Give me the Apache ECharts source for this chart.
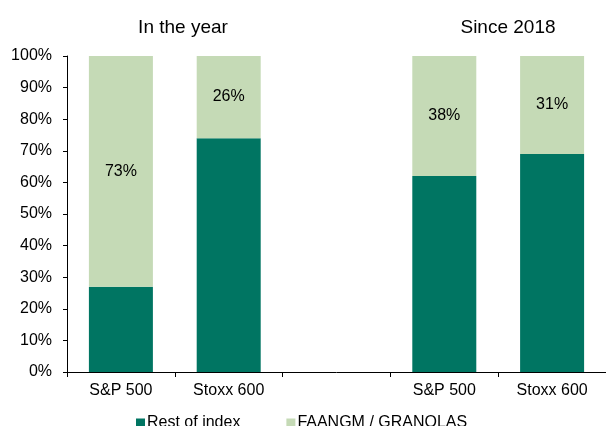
<!DOCTYPE html>
<html>
<head>
<meta charset="utf-8">
<script src="https://cdn.jsdelivr.net/npm/echarts@6/dist/echarts.min.js"></script>
<style>
  html, body { margin: 0; padding: 0; background: #fff; }
  #chart { width: 606px; height: 426px; }
</style>
</head>
<body>
<div id="chart"></div>
<script>
// Index categories; the blank slot separates the two periods
const categories = ['S&P 500', 'Stoxx 600', '', 'S&P 500', 'Stoxx 600'];
// Share of index performance (%)
const restOfIndex = [27, 74, null, 62, 69];
const faangmGranolas = [73, 26, null, 38, 31];
const yTicks = [0, 10, 20, 30, 40, 50, 60, 70, 80, 90, 100];
const periodTitles = ['In the year', 'Since 2018'];

const FONT = '"Liberation Sans", Arial, sans-serif';

const chart = echarts.init(document.getElementById('chart'), null, { renderer: 'canvas' });

const titleStyle = { fontFamily: FONT, fontSize: 19, fontWeight: 'normal', color: '#000' };

chart.setOption({
  animation: false,
  backgroundColor: '#ffffff',
  textStyle: { fontFamily: FONT },
  title: [
    { text: periodTitles[0], left: 178, top: 13, textAlign: 'center', textStyle: titleStyle },
    { text: periodTitles[1], left: 503, top: 13, textAlign: 'center', textStyle: titleStyle }
  ],
  legend: {
    left: 131,
    top: 410,
    itemWidth: 9,
    itemHeight: 9,
    itemGap: 46,
    icon: 'rect',
    textStyle: { fontFamily: FONT, fontSize: 16, color: '#000', padding: [0, 0, 0, -3] },
    data: ['Rest of index', 'FAANGM / GRANOLAS']
  },
  grid: { left: 67, right: -4, top: 56, bottom: 54, containLabel: false },
  xAxis: {
    type: 'category',
    data: categories,
    axisLine: { lineStyle: { color: '#000', width: 1 } },
    axisTick: { show: true, length: 5, lineStyle: { color: '#000' } },
    axisLabel: { fontFamily: FONT, fontSize: 16, color: '#000', margin: 11 }
  },
  yAxis: {
    type: 'value',
    min: yTicks[0],
    max: yTicks[yTicks.length - 1],
    interval: yTicks[1] - yTicks[0],
    splitLine: { show: false },
    axisLine: { show: true, lineStyle: { color: '#000', width: 1 } },
    axisTick: { show: true, length: 4, lineStyle: { color: '#000' } },
    axisLabel: { fontFamily: FONT, fontSize: 16, color: '#000', margin: 15, formatter: '{value}%' }
  },
  series: [
    {
      name: 'Rest of index',
      type: 'bar',
      stack: 'share',
      barWidth: 64,
      data: restOfIndex,
      itemStyle: { color: '#007562' }
    },
    {
      name: 'FAANGM / GRANOLAS',
      type: 'bar',
      stack: 'share',
      barWidth: 64,
      data: faangmGranolas,
      itemStyle: { color: '#C5DAB6' },
      label: {
        show: true,
        position: 'inside',
        formatter: '{c}%',
        fontFamily: FONT,
        fontSize: 16,
        color: '#000'
      }
    }
  ]
});
</script>
</body>
</html>
